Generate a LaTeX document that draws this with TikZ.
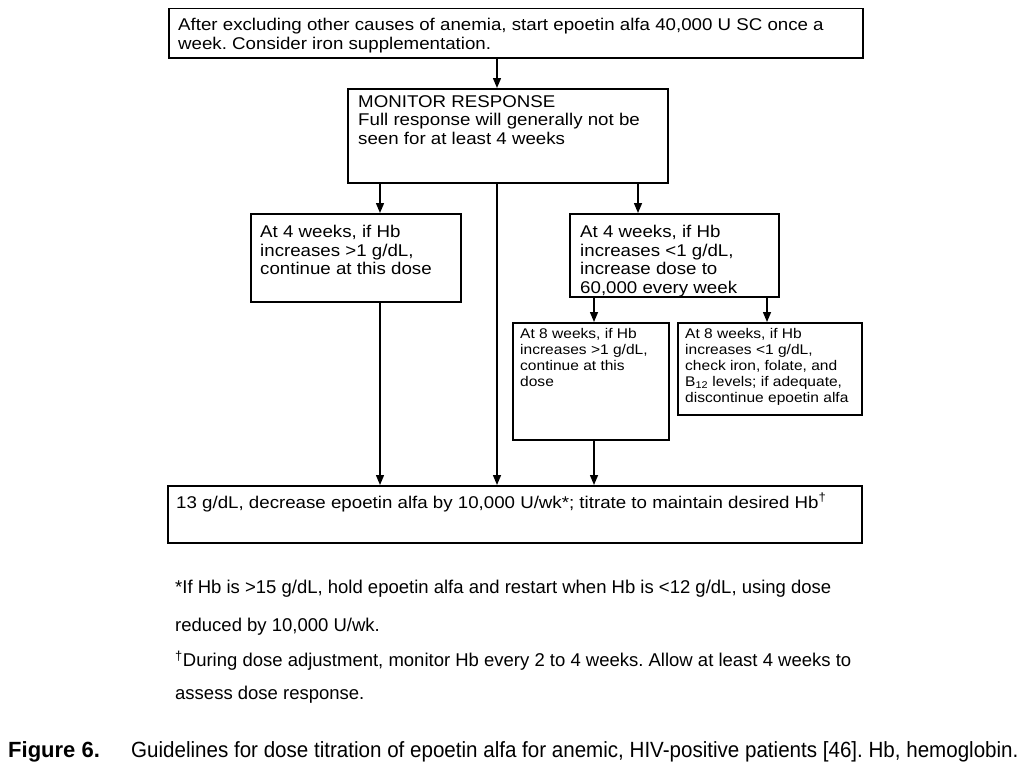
\documentclass[tikz,border=0pt]{standalone}
\usepackage{fontspec}
\setmainfont{Liberation Sans}
\newfontfamily\boxfont[FakeStretch=1.1]{Liberation Sans}
\newfontfamily\sboxfont[FakeStretch=1.11]{Liberation Sans}
\newfontfamily\capfont[FakeStretch=0.935]{Liberation Sans}
\newfontfamily\capbfont[FakeStretch=1.0]{Liberation Sans}
\usetikzlibrary{arrows.meta,calc}
\frenchspacing
\begin{document}
\begin{tikzpicture}[x=1pt,y=-1pt,
  box/.style={draw,line width=1.5pt,inner sep=0pt,anchor=north west},
  txt/.style={anchor=north west,inner sep=0pt,align=left,font=\boxfont\fontsize{17}{18.5}\selectfont},
  stxt/.style={anchor=north west,inner sep=0pt,align=left,font=\sboxfont\fontsize{14}{16}\selectfont},
  note/.style={anchor=west,inner sep=0pt,font=\fontsize{18.5}{20}\selectfont},
  arr/.style={line width=1.4pt,-{Triangle[width=8pt,length=10pt]}}]
\useasboundingbox[fill=white] (0,0) rectangle (1024,768);

% column coordinates
\coordinate (cA) at (380,0);
\coordinate (cM) at (497,0);
\coordinate (cR) at (638,0);
\coordinate (cS1) at (594,0);
\coordinate (cS2) at (767,0);

% boxes
\node[box,minimum width=694pt,minimum height=49pt] (top) at (168,8) {};
\node[box,minimum width=320pt,minimum height=94pt] (mon) at (347,88) {};
\node[box,minimum width=210pt,minimum height=88pt] (left) at (250,213) {};
\node[box,minimum width=209pt,minimum height=83pt] (right) at (569,213) {};
\node[box,minimum width=156pt,minimum height=117pt] (bA) at (512,322) {};
\node[box,minimum width=184pt,minimum height=92pt] (bB) at (677,322) {};
\node[box,minimum width=694pt,minimum height=57pt] (bot) at (167,485) {};

% texts
\node[txt] (topT) at (178,18) {After excluding other causes of anemia, start epoetin alfa 40,000 U SC once a\\week. Consider iron supplementation.};
\node[txt] (monT) at (358,95) {MONITOR RESPONSE\\Full response will generally not be\\seen for at least 4 weeks};
\node[txt] (leftT) at (260,225) {At 4 weeks, if Hb\\increases >1 g/dL,\\continue at this dose};
\node[txt] (rightT) at (580,225) {At 4 weeks, if Hb\\increases <1 g/dL,\\increase dose to\\60,000 every week};
\node[stxt] (bAT) at (520,328) {At 8 weeks, if Hb\\increases >1 g/dL,\\continue at this\\dose};
\node[stxt] (bBT) at (685,328) {At 8 weeks, if Hb\\increases <1 g/dL,\\check iron, folate, and\\B\textsubscript{12} levels; if adequate,\\discontinue epoetin alfa};
\node[txt] (botT) at (176,493) {13 g/dL, decrease epoetin alfa by 10,000 U/wk*; titrate to maintain desired Hb\textsuperscript{†}};

% connectors
\draw[arr] (top.south -| cM) -- (mon.north -| cM);
\draw[arr] (mon.south -| cA) -- (left.north -| cA);
\draw[arr] (mon.south -| cR) -- (right.north -| cR);
\draw[arr] (mon.south -| cM) -- (bot.north -| cM);
\draw[arr] (right.south -| cS1) -- (bA.north -| cS1);
\draw[arr] (right.south -| cS2) -- (bB.north -| cS2);
\draw[arr] (left.south -| cA) -- (bot.north -| cA);
\draw[arr] (bA.south -| cS1) -- (bot.north -| cS1);

% footnotes
\node[note] (n1) at (175,589) {*If Hb is >15 g/dL, hold epoetin alfa and restart when Hb is <12 g/dL, using dose};
\node[note] (n2) at (175,627) {reduced by 10,000 U/wk.};
\node[note] (n3) at (175,661) {\textsuperscript{†}During dose adjustment, monitor Hb every 2 to 4 weeks. Allow at least 4 weeks to};
\node[note] (n4) at (175,695) {assess dose response.};

% caption
\node[anchor=west,inner sep=0pt,font=\capbfont\bfseries\fontsize{22}{24}\selectfont] (capA) at (8,752) {Figure 6.};
\node[anchor=west,inner sep=0pt,font=\capfont\fontsize{22}{24}\selectfont] (capB) at (131,752) {Guidelines for dose titration of epoetin alfa for anemic, HIV-positive patients [46]. Hb, hemoglobin.};
\end{tikzpicture}
\end{document}
